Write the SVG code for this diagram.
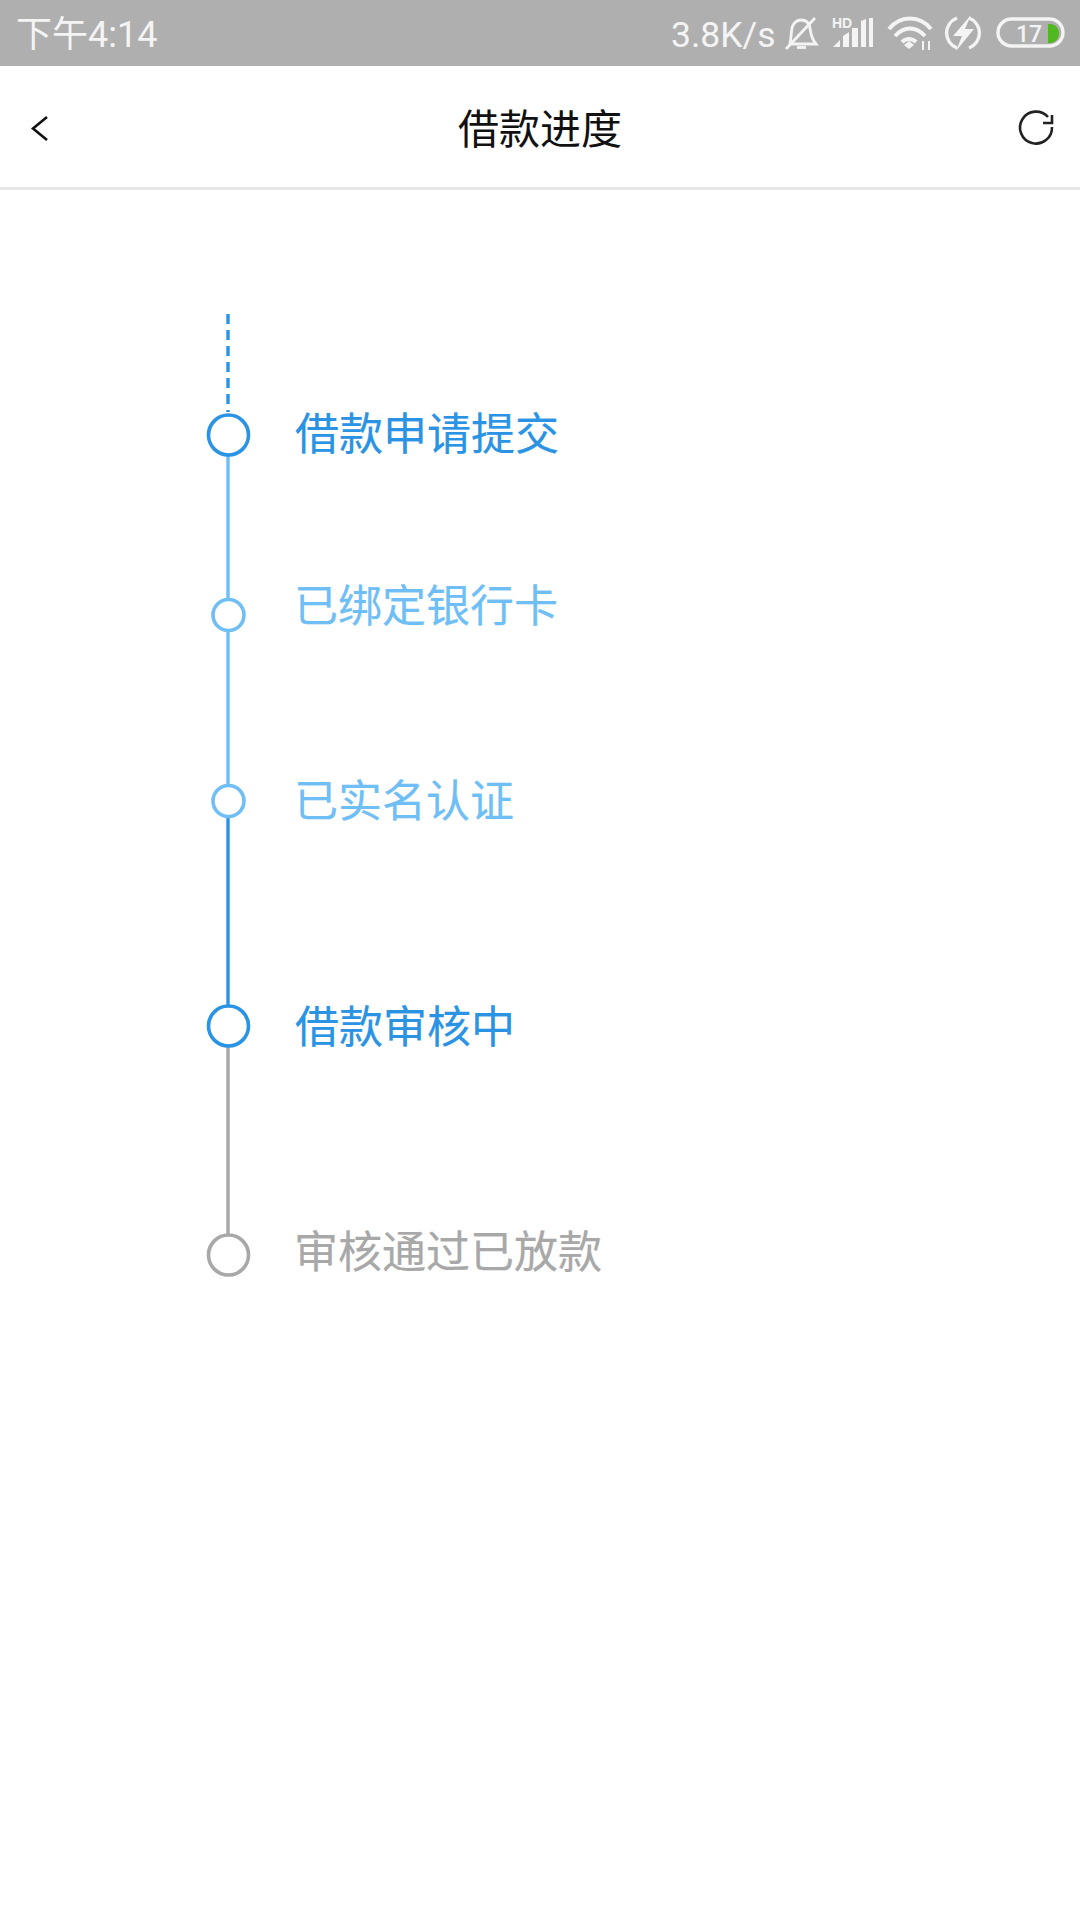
<svg xmlns="http://www.w3.org/2000/svg" width="1080" height="1920" viewBox="0 0 1080 1920">
<style>
text{font-family:"Noto Sans CJK SC","Noto Sans",sans-serif}
.st{fill:#f4f4f4;font-family:"Roboto","Noto Sans CJK SC",sans-serif}
.lb{font-size:44px;stroke-width:.2px}
.blue{fill:#2a93e4;stroke:#2a93e4}.light{fill:#6fbef6;stroke:#6fbef6}.grey{fill:#a8a8a8;stroke:#a8a8a8}
.n{fill:#fff;stroke-width:3.6}
.ic{fill:none;stroke:#f4f4f4;stroke-width:3.4}
.l{stroke-width:3.4;fill:none}
</style>
<rect width="1080" height="1920" fill="#fff"/>
<g id="status-bar">
<rect width="1080" height="66" fill="#afafaf"/>
<text class="st" x="16" y="47" font-size="36">下午4:14</text>
<text class="st" x="671" y="47" font-size="35.500">3.8K/s</text>
<g id="bell" class="ic"><path d="M790 44H816C811 38 811 34 810 28C809 22 805 20 801 20C797 20 793 23 792 28C791 34 791 39 790 44Z" stroke-width="2.800"/><path d="M786 49L815 18" stroke-width="2.800"/><path d="M797 47.500H806" stroke-width="2.800"/></g>
<g id="signal"><text x="832" y="28" font-size="14" font-weight="700" fill="#f4f4f4" style="font-family:'Liberation Sans',sans-serif">HD</text>
<path d="M833 47L840 40V47ZM843 47V36L849 32V47ZM852 47V28H858V47ZM861 47V21L866 19V47ZM869 47V18H873V47Z" fill="#f4f4f4"/></g>
<g id="wifi" class="ic"><path d="M889 29C900 15 920 15 931 29M895 36C904 26 916 26 925 36M902 42C906 38 912 38 916 42" stroke-width="4"/><path d="M904 45L909 41L914 45L909 49Z" fill="#f4f4f4" stroke="none"/><path d="M923 50V41M929 50V41" stroke-width="2"/></g>
<g id="charge"><path d="M957 18A16 16 0 0 0 957 48M969 18A16 16 0 0 1 969 48" class="ic" stroke-width="3.600"/><path d="M971 15L953 36H962L956 51L974 29H965Z" fill="#f4f4f4"/></g>
<g id="battery"><rect x="998" y="19" width="65" height="27" rx="13.500" class="ic" stroke-width="3"/>
<text x="1029" y="42" font-size="23" font-weight="500" text-anchor="middle" fill="#f4f4f4" style="font-family:'Roboto',sans-serif">17</text>
<path d="M1048 24H1050C1055 24 1059 28 1059 33.500C1059 39 1055 43 1050 43H1048Z" fill="#52b81f"/></g>
</g>
<g id="header">
<rect y="187" width="1080" height="3" fill="#e6e6e6"/>
<path id="back" d="M47 117L33 128.500L47 140" fill="none" stroke="#111" stroke-width="2.600"/>
<text x="540" y="144" font-size="41" text-anchor="middle" fill="#111">借款进度</text>
<g id="refresh" fill="none" stroke="#222" stroke-width="2.600"><path d="M1048 117A16 16 0 1 0 1052 127"/><path d="M1052 115V123H1043"/></g>
</g>
<g id="connectors">
<path class="l" stroke="#2a93e4" stroke-dasharray="10 6" d="M228 314V412"/>
<path class="l" stroke="#6fbef6" d="M228 455V600M228 630V786"/>
<path class="l" stroke="#2a93e4" d="M228 817V1006"/>
<path class="l" stroke="#a8a8a8" d="M228 1046V1236"/>
</g>
<g id="node-1"><circle class="n" cx="228.500" cy="435" r="20" stroke="#2a93e4"/><text class="lb blue" x="295" y="450">借款申请提交</text></g>
<g id="node-2"><circle class="n" cx="228.500" cy="615" r="15.500" stroke="#6fbef6"/><text class="lb light" x="294" y="622">已绑定银行卡</text></g>
<g id="node-3"><circle class="n" cx="228.500" cy="801" r="15.500" stroke="#6fbef6"/><text class="lb light" x="294" y="817">已实名认证</text></g>
<g id="node-4"><circle class="n" cx="228.500" cy="1026" r="20" stroke="#2a93e4"/><text class="lb blue" x="295" y="1043">借款审核中</text></g>
<g id="node-5"><circle class="n" cx="228.500" cy="1255" r="20" stroke="#a8a8a8"/><text class="lb grey" x="294" y="1268">审核通过已放款</text></g>
</svg>
